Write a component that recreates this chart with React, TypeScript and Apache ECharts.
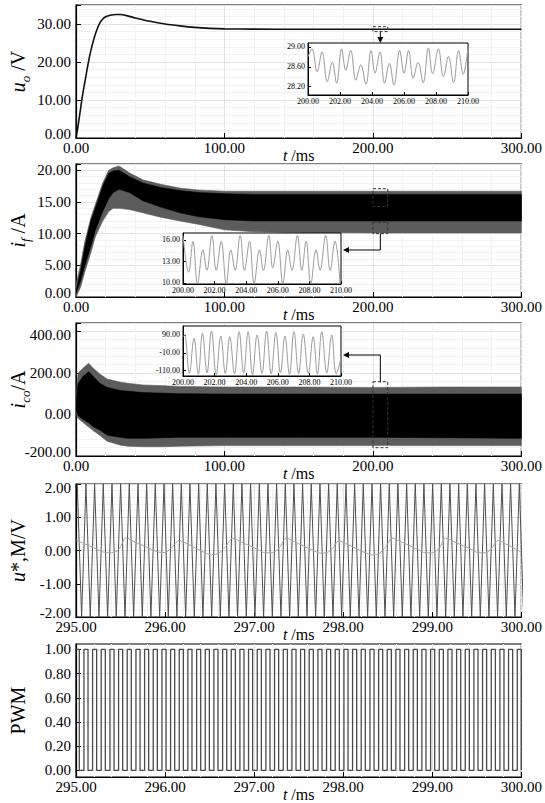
import React, { useEffect, useRef } from 'react';
import * as echarts from 'echarts';

const FONT = "'Liberation Serif', 'Times New Roman', Times, serif";

// ---------------- panel 1 : u_o ----------------
const uoTime = [0, 1, 2, 3, 4, 5, 6, 7, 8, 9, 10, 12, 14, 16, 18, 20, 23, 27, 30, 34, 40, 50, 60, 70, 80, 90, 100, 120, 150, 200, 250, 300];
const uoValue = [0, 2.2, 4.8, 7.5, 10.2, 12.6, 14.8, 17.0, 19.2, 21.2, 23.0, 26.0, 28.4, 30.2, 31.3, 31.9, 32.3, 32.5, 32.5, 32.2, 31.6, 30.7, 30.0, 29.5, 29.1, 28.85, 28.72, 28.65, 28.62, 28.62, 28.62, 28.62];
const uoTicks = [0, 10, 20, 30];
const uoZoomTime = [200.0, 200.25, 200.57, 200.88, 201.2, 201.52, 201.79, 202.1, 202.36, 202.67, 202.99, 203.3, 203.62, 203.94, 204.19, 204.5, 204.78, 205.09, 205.37, 205.73, 206.0, 206.29, 206.57, 206.88, 207.2, 207.52, 207.79, 208.15, 208.46, 208.78, 209.1, 209.41, 209.7, 210.0];
const uoZoomValue = [28.8, 28.96, 28.5, 28.9, 28.3, 28.69, 28.27, 28.96, 28.53, 28.93, 28.33, 28.64, 28.25, 28.93, 28.47, 28.9, 28.27, 28.67, 28.23, 28.93, 28.47, 28.93, 28.37, 28.69, 28.28, 28.98, 28.46, 28.96, 28.4, 28.81, 28.28, 28.93, 28.45, 28.99];
const uoZoomTicks = [28.2, 28.6, 29.0];

// ---------------- panel 2 : i_f (envelopes of the dense ripple) ----------------
const ifTime = [0, 3, 6, 10, 13, 18, 22, 25, 29, 36, 45, 57, 70, 82, 100, 120, 150, 200, 250, 300];
const ifOuterHigh = [2, 5, 8.8, 12.5, 14.6, 18, 20, 20.4, 20.7, 19.6, 18.5, 17.8, 17.2, 16.9, 16.7, 16.7, 16.7, 16.7, 16.7, 16.7];
const ifCoreHigh = [1, 4, 8, 12, 14, 17.5, 19.5, 19.9, 20.0, 19.0, 18.0, 17.3, 16.8, 16.5, 16.3, 16.2, 16.2, 16.2, 16.2, 16.2];
const ifCoreLow = [0.5, 2.5, 5, 8, 10.5, 13.5, 15.5, 16.5, 17, 16.5, 15.2, 14.2, 13.3, 12.7, 12.2, 12.0, 12.0, 12.0, 12.0, 12.0];
const ifOuterLow = [0, 1.5, 4, 7, 9.5, 12, 13.5, 14, 14, 13.8, 13.3, 12.6, 12, 11.5, 10.6, 10.3, 10.2, 10.1, 10.1, 10.1];
const ifTicks = [0, 5, 10, 15, 20];
const ifZoomTime = [200.0, 200.36, 200.63, 200.92, 201.26, 201.51, 201.83, 202.1, 202.42, 202.74, 203.03, 203.3, 203.62, 203.89, 204.21, 204.5, 204.84, 205.09, 205.43, 205.68, 206.0, 206.32, 206.63, 206.9, 207.24, 207.52, 207.79, 208.09, 208.42, 208.67, 209.03, 209.31, 209.62, 209.94];
const ifZoomValue = [16.6, 11.5, 15.8, 9.9, 14.6, 11.75, 16.6, 11.75, 15.8, 9.9, 14.6, 11.75, 16.6, 11.75, 15.8, 9.9, 14.6, 11.75, 16.6, 12.1, 15.8, 9.9, 14.6, 11.75, 16.6, 11.75, 15.8, 9.9, 14.6, 11.75, 16.6, 11.75, 15.8, 9.9];
const ifZoomTicks = [10, 13, 16];

// ---------------- panel 3 : i_co ----------------
const icoTime = [0, 0.5, 1, 1.5, 5, 8.5, 12, 16, 21, 30, 35, 45, 60, 70, 100, 150, 200, 250, 300];
const icoOuterHigh = [60, 120, 170, 200, 225, 246, 220, 195, 170, 155, 150, 142, 138, 135, 132, 132, 130, 132, 132];
const icoCoreHigh = [40, 90, 130, 150, 185, 205, 180, 150, 130, 115, 112, 105, 102, 100, 98, 98, 98, 98, 98];
const icoCoreLow = [30, 10, 0, -5, -25, -40, -60, -75, -100, -110, -115, -115, -112, -110, -110, -110, -110, -112, -115];
const icoOuterLow = [20, 0, -15, -20, -40, -60, -80, -100, -129, -148, -153, -155, -155, -153, -150, -150, -150, -150, -150];
const icoTicks = [-200, 0, 200, 400];
const icoZoomTime = [200.0, 200.1, 200.4, 200.7, 200.97, 201.23, 201.52, 201.8, 202.1, 202.39, 202.68, 202.96, 203.26, 203.55, 203.84, 204.12, 204.4, 204.69, 205.0, 205.29, 205.58, 205.88, 206.17, 206.45, 206.74, 207.02, 207.32, 207.61, 207.93, 208.24, 208.51, 208.78, 209.1, 209.41, 209.7, 210.0];
const icoZoomValue = [80, 90, -125, 71, -130, 99, -122, 112, -132, 84, -126, 80, -128, 108, -124, 108, -133, 90, -125, 112, -129, 103, -122, 84, -131, 108, -127, 95, -126, 80, -130, 108, -124, 90, -128, -40];
const icoZoomTicks = [-110, -10, 90];

// ---------------- panel 4 : carrier and modulating wave ----------------
const uTicks = [-2, -1, 0, 1, 2];
const carrierLevel = [2, -2];
const carrierPeakTime = [295.014, 295.112, 295.209, 295.306, 295.404, 295.501, 295.598, 295.696, 295.793, 295.89, 295.988, 296.085, 296.182, 296.279, 296.377, 296.474, 296.571, 296.669, 296.766, 296.863, 296.96, 297.058, 297.155, 297.252, 297.35, 297.447, 297.544, 297.641, 297.739, 297.836, 297.933, 298.031, 298.128, 298.225, 298.323, 298.42, 298.517, 298.614, 298.712, 298.809, 298.906, 299.004, 299.101, 299.198, 299.296, 299.393, 299.49, 299.587, 299.685, 299.782, 299.879, 299.977];
const carrierTroughTime = [295.063, 295.16, 295.258, 295.355, 295.452, 295.55, 295.647, 295.744, 295.841, 295.939, 296.036, 296.133, 296.231, 296.328, 296.425, 296.523, 296.62, 296.717, 296.814, 296.912, 297.009, 297.106, 297.204, 297.301, 297.398, 297.496, 297.593, 297.69, 297.787, 297.885, 297.982, 298.079, 298.177, 298.274, 298.371, 298.469, 298.566, 298.663, 298.76, 298.858, 298.955, 299.052, 299.15, 299.247, 299.344, 299.442, 299.539, 299.636, 299.733, 299.831, 299.928, 300.025];
const modTime = [295.0, 295.1, 295.2, 295.3, 295.38, 295.46, 295.5, 295.56, 295.65, 295.75, 295.85, 295.93, 296.0, 296.06, 296.16, 296.25, 296.35, 296.45, 296.52, 296.6, 296.68, 296.76, 296.85, 296.95, 297.05, 297.12, 297.2, 297.28, 297.36, 297.45, 297.55, 297.65, 297.75, 297.82, 297.88, 297.95, 298.05, 298.15, 298.25, 298.32, 298.4, 298.48, 298.55, 298.65, 298.75, 298.85, 298.92, 299.0, 299.08, 299.15, 299.25, 299.35, 299.45, 299.52, 299.6, 299.67, 299.74, 299.85, 300.0];
const modValue = [0.32, 0.2, 0.08, -0.04, -0.07, -0.02, 0.12, 0.38, 0.27, 0.15, 0.03, -0.05, -0.06, 0.05, 0.3, 0.2, 0.06, -0.07, -0.13, -0.08, 0.12, 0.37, 0.26, 0.14, 0.02, -0.07, -0.07, 0.08, 0.37, 0.27, 0.14, 0.02, -0.08, -0.06, 0.06, 0.29, 0.18, 0.05, -0.07, -0.13, -0.1, 0.12, 0.37, 0.26, 0.14, 0.02, -0.07, -0.07, 0.08, 0.37, 0.26, 0.14, 0.02, -0.07, -0.07, 0.08, 0.3, 0.16, -0.05];

// ---------------- panel 5 : PWM ----------------
const pwmTicks = [0, 0.2, 0.4, 0.6, 0.8, 1.0];
const pwmLevel = [0, 1];
const pwmRise = [294.991, 295.089, 295.186, 295.283, 295.381, 295.478, 295.575, 295.673, 295.77, 295.867, 295.965, 296.062, 296.159, 296.256, 296.354, 296.451, 296.548, 296.646, 296.743, 296.84, 296.937, 297.035, 297.132, 297.229, 297.327, 297.424, 297.521, 297.618, 297.716, 297.813, 297.91, 298.008, 298.105, 298.202, 298.3, 298.397, 298.494, 298.591, 298.689, 298.786, 298.883, 298.981, 299.078, 299.175, 299.273, 299.37, 299.467, 299.564, 299.662, 299.759, 299.856, 299.954];
const pwmFall = [295.037, 295.135, 295.232, 295.329, 295.427, 295.524, 295.621, 295.719, 295.816, 295.913, 296.011, 296.108, 296.205, 296.302, 296.4, 296.497, 296.594, 296.692, 296.789, 296.886, 296.983, 297.081, 297.178, 297.275, 297.373, 297.47, 297.567, 297.664, 297.762, 297.859, 297.956, 298.054, 298.151, 298.248, 298.346, 298.443, 298.54, 298.637, 298.735, 298.832, 298.929, 299.027, 299.124, 299.221, 299.319, 299.416, 299.513, 299.61, 299.708, 299.805, 299.902, 300.0];

// ---------------- zoom-window annotations ----------------
const zoomWindow = [200, 210];
const uoBox = [28.0, 29.3];
const ifBoxes = [[14.3, 17.1], [10.0, 11.8]];
const icoBox = [-160, 157];

// ---------------- layout ----------------
const MAIN_LEFT = 71;
const MAIN_W = 451;
const MAIN_H = 133;
const PANEL_TOPS = [5, 164, 323, 484, 644];
const INSETS = [
  { left: 308, top: 43, width: 160, height: 52 },
  { left: 183, top: 233, width: 158, height: 51 },
  { left: 183, top: 326, width: 158, height: 50 },
];

const zip = (a: number[], b: number[]) => a.map((v, i) => [v, b[i]]);

function bandSeries(gi: number, t: number[], hi: number[], lo: number[], color: string, z: number) {
  return {
    type: 'custom',
    xAxisIndex: gi,
    yAxisIndex: gi,
    z,
    silent: true,
    clip: true,
    data: [[t[0], lo[0]]],
    renderItem: (_p: any, api: any) => {
      const pts: number[][] = [];
      for (let i = 0; i < t.length; i++) pts.push(api.coord([t[i], hi[i]]));
      for (let i = t.length - 1; i >= 0; i--) pts.push(api.coord([t[i], lo[i]]));
      return { type: 'polygon', shape: { points: pts }, style: { fill: color, stroke: color, lineWidth: 0.6 } };
    },
  };
}

const nameRich = {
  i: { fontFamily: FONT, fontSize: 20, fontStyle: 'italic', lineHeight: 20, padding: [0, 0, 4, 0], verticalAlign: 'bottom', color: '#000' },
  s: { fontFamily: FONT, fontSize: 13, fontStyle: 'italic', lineHeight: 13, verticalAlign: 'bottom', color: '#000' },
  n: { fontFamily: FONT, fontSize: 20, lineHeight: 20, padding: [0, 0, 4, 0], verticalAlign: 'bottom', color: '#000' },
};

function labelRich(size: number) {
  return {
    a: { fontFamily: FONT, fontSize: size, color: '#000' },
    lo: { fontFamily: FONT, fontSize: size, color: '#000', padding: [0, 0, 8, 0] },
    hi: { fontFamily: FONT, fontSize: size, color: '#000', padding: [8, 0, 0, 0] },
  };
}

// shift: optional map from tick value to 'lo' (raise) or 'hi' (lower) style
function fmtFrom(list: number[], shift: Record<string, string> = {}) {
  return (v: number) => {
    if (!list.some((l) => Math.abs(l - v) < 1e-6)) return '';
    const key = shift[String(v)] || 'a';
    return `{${key}|${v.toFixed(2)}}`;
  };
}

function mainX(gi: number, min: number, max: number, interval: number, ticks: number[]) {
  return {
    type: 'value', gridIndex: gi, min, max, interval,
    axisLine: { show: true, onZero: false, lineStyle: { color: '#000', width: 1.2 } },
    axisTick: { show: true, inside: true, length: 5, lineStyle: { color: '#000' } },
    axisLabel: { margin: 2, fontFamily: FONT, fontSize: 15, color: '#000', formatter: fmtFrom(ticks), rich: labelRich(15), showMinLabel: true, showMaxLabel: true, hideOverlap: false },
    splitLine: { show: true, lineStyle: { color: '#e3e3e3', width: 1 } },
    minorSplitLine: { show: true, lineStyle: { color: '#f2f2f2', width: 1 } },
    name: '{i|t}{m| /ms}',
    nameLocation: 'middle',
    nameGap: 9,
    nameMoveOverlap: false,
    nameTextStyle: {
      fontFamily: FONT, fontSize: 16, color: '#000',
      rich: {
        i: { fontFamily: FONT, fontSize: 16, fontStyle: 'italic', color: '#000' },
        m: { fontFamily: FONT, fontSize: 16, color: '#000' },
      },
    },
  };
}

function mainY(gi: number, min: number, max: number, interval: number | null, ticks: number[], name: string, shift: Record<string, string> = {}, minor = true) {
  const ax: any = {
    type: 'value', gridIndex: gi, min, max,
    axisLine: { show: true, onZero: false, lineStyle: { color: '#000', width: 1.2 } },
    axisTick: { show: true, inside: true, length: 5, lineStyle: { color: '#000' } },
    axisLabel: { margin: 5, fontFamily: FONT, fontSize: 15, color: '#000', formatter: fmtFrom(ticks, shift), rich: labelRich(15), showMinLabel: true, showMaxLabel: true, hideOverlap: false },
    splitLine: { show: true, lineStyle: { color: '#e3e3e3', width: 1 } },
    minorSplitLine: { show: minor, lineStyle: { color: '#f2f2f2', width: 1 } },
    name,
    nameLocation: 'middle',
    nameGap: 44,
    nameMoveOverlap: false,
    nameTextStyle: { fontFamily: FONT, fontSize: 20, color: '#000', rich: nameRich },
  };
  if (interval != null) ax.interval = interval;
  else {
    ax.axisLabel.customValues = ticks;
    ax.axisTick.customValues = ticks;
  }
  return ax;
}

function insetX(gi: number) {
  return {
    type: 'value', gridIndex: gi, min: 200, max: 210, interval: 2, z: 11,
    axisLine: { show: true, onZero: false, lineStyle: { color: '#000', width: 1 } },
    axisTick: { show: true, inside: true, length: 3, lineStyle: { color: '#000' } },
    axisLabel: { margin: 2, fontFamily: FONT, fontSize: 8, color: '#000', formatter: (v: number) => `{a|${v.toFixed(2)}}`, rich: labelRich(8), showMinLabel: true, showMaxLabel: true, hideOverlap: false },
    splitLine: { show: false },
  };
}

function insetY(gi: number, min: number, max: number, ticks: number[]) {
  return {
    type: 'value', gridIndex: gi, min, max, z: 11,
    axisLine: { show: true, onZero: false, lineStyle: { color: '#000', width: 1 } },
    axisTick: { show: true, inside: true, length: 3, lineStyle: { color: '#000' }, customValues: ticks },
    axisLabel: { margin: 3, fontFamily: FONT, fontSize: 8, color: '#000', customValues: ticks, formatter: (v: number) => `{a|${v.toFixed(2)}}`, rich: labelRich(8) },
    splitLine: { show: false },
  };
}

const mainTimeTicks = [0, 100, 200, 300];
const zoomTimeTicks = [295, 296, 297, 298, 299, 300];

function buildCarrier() {
  const pts: number[][] = [];
  for (let i = 0; i < carrierPeakTime.length; i++) {
    pts.push([carrierPeakTime[i], carrierLevel[0]]);
    if (i < carrierTroughTime.length) pts.push([carrierTroughTime[i], carrierLevel[1]]);
  }
  return pts;
}

function buildPwm() {
  const pts: number[][] = [];
  for (let i = 0; i < pwmRise.length; i++) {
    pts.push([pwmRise[i], pwmLevel[0]], [pwmRise[i], pwmLevel[1]], [pwmFall[i], pwmLevel[1]], [pwmFall[i], pwmLevel[0]]);
  }
  return pts;
}

export default function App() {
  const ref = useRef<HTMLDivElement>(null);
  useEffect(() => {
    document.body.style.margin = '0';
    const chart = echarts.init(ref.current!, null, { renderer: 'svg' });
    const grids: any[] = PANEL_TOPS.map((top) => ({
      left: MAIN_LEFT, top, width: MAIN_W, height: MAIN_H,
      show: true, borderColor: '#000', borderWidth: 1.2, backgroundColor: 'rgba(0,0,0,0)',
    }));
    INSETS.forEach((r) => grids.push({ ...r, show: true, borderColor: '#000', borderWidth: 1, backgroundColor: '#fff', z: 10 }));

    const option: any = {
      animation: false,
      backgroundColor: '#fff',
      textStyle: { fontFamily: FONT },
      grid: grids,
      xAxis: [
        mainX(0, 0, 300, 100, mainTimeTicks),
        mainX(1, 0, 300, 100, mainTimeTicks),
        mainX(2, 0, 300, 100, mainTimeTicks),
        mainX(3, 295, 300, 1, zoomTimeTicks),
        mainX(4, 295, 300, 1, zoomTimeTicks),
        insetX(5), insetX(6), insetX(7),
      ],
      yAxis: [
        mainY(0, 0, 35, 10, uoTicks, '{i|u}{s|o}{n| /V}', { '0': 'lo' }),
        mainY(1, 0, 21, 5, ifTicks, '{i|i}{s|f}{n| /A}', { '0': 'lo' }),
        mainY(2, -200, 440, 200, icoTicks, '{i|i}{s|co}{n|/A}', { '400': 'hi', '-200': 'lo' }),
        mainY(3, -2, 2, 1, uTicks, '{i|u}{n|*,M/V}', { '2': 'hi', '-2': 'lo' }),
        mainY(4, -0.055, 1.045, null, pwmTicks, '{n|PWM}', {}, false),
        insetY(5, 28.03, 29.08, uoZoomTicks),
        insetY(6, 9.85, 16.95, ifZoomTicks),
        insetY(7, -140, 140, icoZoomTicks),
      ],
      series: [
        {
          type: 'line', xAxisIndex: 0, yAxisIndex: 0, data: zip(uoTime, uoValue), showSymbol: false,
          smooth: 0.3, lineStyle: { color: '#111', width: 1.6 }, clip: true,
        },
        bandSeries(1, ifTime, ifOuterHigh, ifOuterLow, '#5c5c5c', 2),
        bandSeries(1, ifTime, ifCoreHigh, ifCoreLow, '#000', 3),
        bandSeries(2, icoTime, icoOuterHigh, icoOuterLow, '#5c5c5c', 2),
        bandSeries(2, icoTime, icoCoreHigh, icoCoreLow, '#000', 3),
        {
          type: 'line', xAxisIndex: 3, yAxisIndex: 3, data: buildCarrier(), showSymbol: false,
          lineStyle: { color: '#505050', width: 1 }, clip: true,
        },
        {
          type: 'line', xAxisIndex: 3, yAxisIndex: 3, data: zip(modTime, modValue), showSymbol: false,
          smooth: 0.3, lineStyle: { color: '#a6a6a6', width: 1 }, clip: true, z: 3,
        },
        {
          type: 'line', xAxisIndex: 4, yAxisIndex: 4, data: buildPwm(), showSymbol: false,
          lineStyle: { color: '#4a4a4a', width: 1.3 }, clip: true,
        },
        {
          type: 'line', xAxisIndex: 5, yAxisIndex: 5, data: zip(uoZoomTime, uoZoomValue), showSymbol: false,
          smooth: 0.4, lineStyle: { color: '#9a9a9a', width: 1 }, clip: true, z: 12,
        },
        {
          type: 'line', xAxisIndex: 6, yAxisIndex: 6, data: zip(ifZoomTime, ifZoomValue), showSymbol: false,
          smooth: 0.4, lineStyle: { color: '#9a9a9a', width: 1 }, clip: true, z: 12,
        },
        {
          type: 'line', xAxisIndex: 7, yAxisIndex: 7, data: zip(icoZoomTime, icoZoomValue), showSymbol: false,
          smooth: 0.4, lineStyle: { color: '#9a9a9a', width: 1 }, clip: true, z: 12,
        },
      ],
    };
    chart.setOption(option);

    const px = (gi: number, p: number[]) => chart.convertToPixel({ gridIndex: gi } as any, p) as unknown as number[];
    const dash = { fill: 'none', stroke: '#333', lineWidth: 1, lineDash: [3, 2] };
    const line = { stroke: '#000', lineWidth: 1, fill: 'none' };
    const g: any[] = [];
    const box = (gi: number, v0: number, v1: number) => {
      const a = px(gi, [zoomWindow[0], v1]);
      const b = px(gi, [zoomWindow[1], v0]);
      g.push({ type: 'rect', z: 50, silent: true, shape: { x: a[0], y: a[1], width: b[0] - a[0], height: b[1] - a[1] }, style: dash });
      return { x0: a[0], x1: b[0], top: a[1], bottom: b[1], cx: (a[0] + b[0]) / 2 };
    };
    // panel 1
    const b1 = box(0, uoBox[0], uoBox[1]);
    const in1 = INSETS[0];
    g.push({ type: 'line', z: 50, silent: true, shape: { x1: b1.cx, y1: b1.bottom, x2: b1.cx, y2: in1.top - 5 }, style: line });
    g.push({ type: 'polygon', z: 50, silent: true, shape: { points: [[b1.cx - 3, in1.top - 6], [b1.cx + 3, in1.top - 6], [b1.cx, in1.top]] }, style: { fill: '#000' } });
    // panel 2
    box(1, ifBoxes[0][0], ifBoxes[0][1]);
    const b2 = box(1, ifBoxes[1][0], ifBoxes[1][1]);
    const in2 = INSETS[1];
    const y2h = in2.top + 17;
    const x2e = in2.left + in2.width + 2;
    g.push({ type: 'polyline', z: 50, silent: true, shape: { points: [[b2.cx, b2.bottom], [b2.cx, y2h], [x2e + 5, y2h]] }, style: line });
    g.push({ type: 'polygon', z: 50, silent: true, shape: { points: [[x2e + 6, y2h - 3], [x2e + 6, y2h + 3], [x2e, y2h]] }, style: { fill: '#000' } });
    // panel 3
    const b3 = box(2, icoBox[0], icoBox[1]);
    const in3 = INSETS[2];
    const y3h = in3.top + 29;
    const x3e = in3.left + in3.width + 2;
    g.push({ type: 'polyline', z: 50, silent: true, shape: { points: [[b3.cx, b3.top], [b3.cx, y3h], [x3e + 5, y3h]] }, style: line });
    g.push({ type: 'polygon', z: 50, silent: true, shape: { points: [[x3e + 6, y3h - 3], [x3e + 6, y3h + 3], [x3e, y3h]] }, style: { fill: '#000' } });

    chart.setOption({ graphic: g });
    return () => chart.dispose();
  }, []);
  return <div ref={ref} style={{ position: 'absolute', left: 0, top: 0, width: 545, height: 803 }} />;
}
